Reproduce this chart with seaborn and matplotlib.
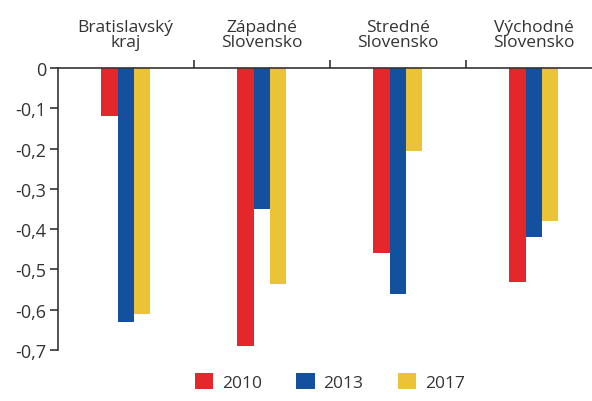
import matplotlib
matplotlib.use("Agg")
import matplotlib.pyplot as plt
import matplotlib.ticker as mticker
from matplotlib.patches import Patch
import seaborn as sns
import pandas as pd

regions = ["Bratislavský\nkraj", "Západné\nSlovensko", "Stredné\nSlovensko", "Východné\nSlovensko"]
years = ["2010", "2013", "2017"]
values_2010 = [-0.12, -0.69, -0.46, -0.53]
values_2013 = [-0.63, -0.35, -0.56, -0.42]
values_2017 = [-0.61, -0.535, -0.205, -0.38]
yticks = [0, -0.1, -0.2, -0.3, -0.4, -0.5, -0.6, -0.7]
colors = ["#E4272B", "#13509D", "#EBC337"]

sns.set_theme(style="white")
plt.rcParams["font.family"] = ["Open Sans", "DejaVu Sans"]
text_color = "#333333"

rows = []
for year, vals in zip(years, [values_2010, values_2013, values_2017]):
    for reg, v in zip(regions, vals):
        rows.append({"region": reg, "year": year, "value": v})
df = pd.DataFrame(rows)

fig = plt.figure(figsize=(5.92, 4.02), dpi=100)
ax = fig.add_axes([0.0975, 0.127, 0.919, 0.701])

sns.barplot(data=df, x="region", y="value", hue="year", order=regions,
            hue_order=years, palette=colors, width=0.36, dodge=True,
            saturation=1, edgecolor="none", linewidth=0, legend=False, ax=ax)

ax.set_xlim(-0.5, len(regions) - 0.5)
ax.set_ylim(-0.7, 0)
ax.set_xlabel("")
ax.set_ylabel("")

# y axis
ax.set_yticks(yticks)
ax.yaxis.set_major_formatter(mticker.FuncFormatter(
    lambda v, p: "0" if abs(v) < 1e-9 else f"{v:.1f}".replace(".", ",")))
ax.tick_params(axis="y", which="major", left=True, length=6, width=1.2,
               color=text_color, labelsize=13, labelcolor=text_color, pad=2)

# category labels on top, ticks at group boundaries
ax.xaxis.tick_top()
ax.set_xticks(range(len(regions)))
ax.set_xticklabels(regions, linespacing=0.95)
ax.set_xticks([i + 0.5 for i in range(len(regions) - 1)], minor=True)
ax.tick_params(axis="x", which="major", top=True, length=0, labelsize=12.5,
               labelcolor=text_color, pad=13)
ax.tick_params(axis="x", which="minor", top=True, length=6, width=1.2,
               color=text_color)

for side in ["right", "bottom"]:
    ax.spines[side].set_visible(False)
for side in ["left", "top"]:
    ax.spines[side].set_color(text_color)
    ax.spines[side].set_linewidth(1.2)

handles = [Patch(facecolor=c, edgecolor="none", label=y) for c, y in zip(colors, years)]
leg = ax.legend(handles=handles, loc="center", bbox_to_anchor=(0.5, -0.115),
                ncol=3, frameon=False, fontsize=12.5, handlelength=1.05,
                handleheight=1.05, handletextpad=0.5, columnspacing=2.0)
for t in leg.get_texts():
    t.set_color(text_color)

fig.savefig("out.png", dpi=100, facecolor="white")
